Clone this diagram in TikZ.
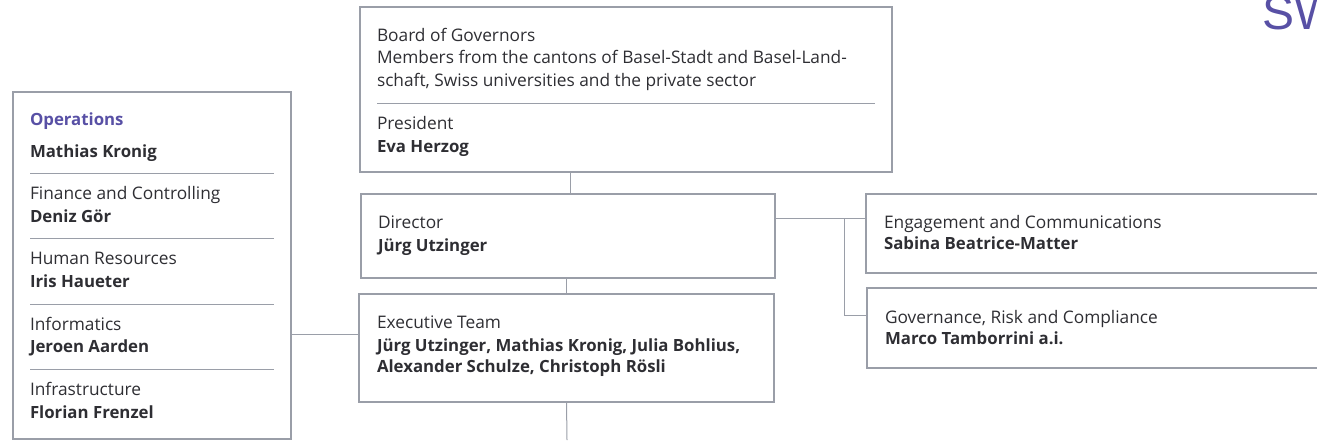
\documentclass[tikz,border=0pt]{standalone}
\usepackage{fontspec}
\setmainfont{Open Sans}
\newfontfamily\logofont{Liberation Sans}
\definecolor{boxgray}{HTML}{9A9EA8}
\definecolor{inkgray}{HTML}{2E2E33}
\definecolor{logopurple}{HTML}{5850A5}
\tikzset{
  box/.style={draw=boxgray,line width=2.8pt,inner sep=0pt,outer sep=0pt},
  link/.style={draw=boxgray,line width=1pt},
  rule/.style={draw=boxgray,line width=1pt},
  txt/.style={anchor=base west,inner sep=0pt,outer sep=0pt,text=inkgray,font=\fontsize{17.3}{19}\selectfont},
  who/.style={txt,font=\fontsize{16.8}{19}\selectfont\bfseries},
}
\begin{document}
\begin{tikzpicture}[x=1pt,y=-1pt]
  \useasboundingbox (0,0) rectangle (1317,440);
  \node[anchor=base west,inner sep=0pt,text=logopurple,font=\fontsize{48}{50}\selectfont\logofont] (logo) at (1262,29) {SW};
  %% boxes
  \node[box,minimum width=532pt,minimum height=165pt] (board)    at (626,89.5) {};
  \node[box,minimum width=414pt,minimum height=84pt]  (director) at (568,236) {};
  \node[box,minimum width=415pt,minimum height=108pt] (exec)     at (566.5,348) {};
  \node[box,minimum width=278pt,minimum height=347pt] (ops)      at (152,265.5) {};
  \node[box,minimum width=480pt,minimum height=79pt]  (engage)   at (1106,233.5) {};
  \node[box,minimum width=480pt,minimum height=80pt]  (govern)   at (1107,328) {};
  %% board text
  \node[txt] (boardT)  at (377,41) {Board of Governors};
  \node[txt] (boardA)  at (377,63) {Members from the cantons of Basel-Stadt and Basel-Land-};
  \node[txt] (boardB)  at (377,86) {schaft, Swiss universities and the private sector};
  \node[txt] (pres)    at (377,129) {President};
  \node[who] (presN)   at (377,152) {Eva Herzog};
  \node[txt] (dir)     at (378,228) {Director};
  \node[who] (dirN)    at (378,251) {Jürg Utzinger};
  \node[txt] (execT)   at (377,328) {Executive Team};
  \node[who] (execA)   at (377,351) {Jürg Utzinger, Mathias Kronig, Julia Bohlius,};
  \node[who] (execB)   at (377,372) {Alexander Schulze, Christoph Rösli};
  %% operations text
  \node[who,text=logopurple] (opsT) at (30,125) {Operations};
  \node[who] (opsN)    at (30,157) {Mathias Kronig};
  \node[txt] (fin)     at (30,199) {Finance and Controlling};
  \node[who] (finN)    at (30,222) {Deniz Gör};
  \node[txt] (hr)      at (30,264) {Human Resources};
  \node[who] (hrN)     at (30,287) {Iris Haueter};
  \node[txt] (inf)     at (30,330) {Informatics};
  \node[who] (infN)    at (30,352) {Jeroen Aarden};
  \node[txt] (infra)   at (30,395) {Infrastructure};
  \node[who] (infraN)  at (30,418) {Florian Frenzel};
  %% right column text
  \node[txt] (eng)     at (884,228) {Engagement and Communications};
  \node[who] (engN)    at (884,249) {Sabina Beatrice-Matter};
  \node[txt] (gov)     at (885,323) {Governance, Risk and Compliance};
  \node[who] (govN)    at (885,344) {Marco Tamborrini a.i.};
  %% dividers
  \draw[rule] (377,103) -- (875,103);
  \draw[rule] (30,173) -- (274,173);
  \draw[rule] (30,238) -- (274,238);
  \draw[rule] (30,304) -- (274,304);
  \draw[rule] (30,369) -- (274,369);
  %% connectors
  \coordinate (branch) at (844,218);
  \coordinate (down) at (567,440);
  \draw[link] ([xshift=-56pt]board.south) -- ([xshift=2pt]director.north);
  \draw[link] (director.south -| exec.north) -- (exec.north);
  \draw[link] (exec.south) -- (down);
  \draw[link] ([yshift=14pt]exec.west) -- ([yshift=14pt]exec.west -| ops.east);
  \draw[link] ([yshift=18pt]director.east) -- ([yshift=18pt]director.east -| engage.west);
  \draw[link] (branch) |- ([yshift=13pt]govern.west);
\end{tikzpicture}
\end{document}
